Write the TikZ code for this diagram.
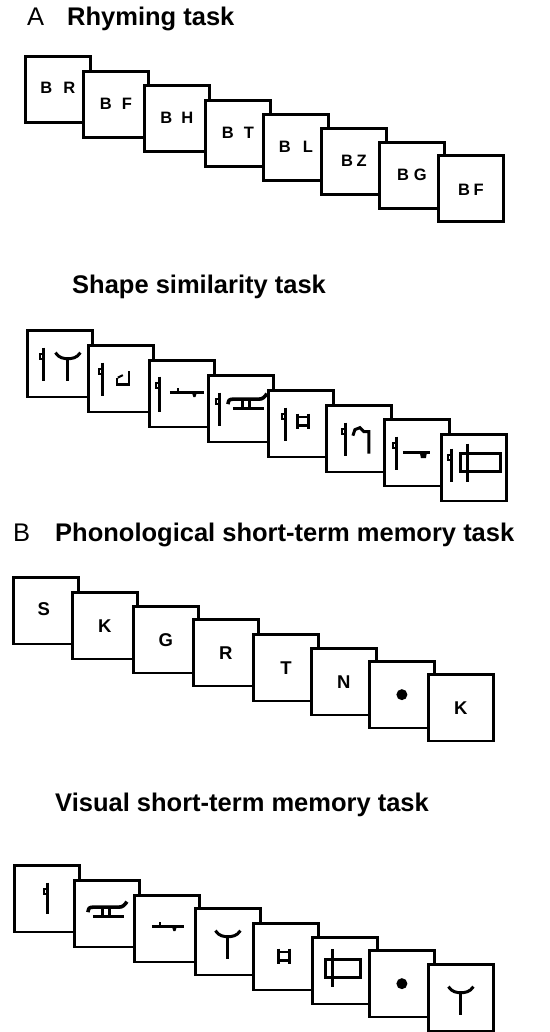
\documentclass[tikz,border=0pt]{standalone}
\usepackage{fontspec}
\setmainfont{Liberation Sans}
\newcommand\gStem[3]{\begin{scope}[shift={(#1,#2)}]
  \draw[gl] (0,-#3) -- (0,#3+1);
  \fill (-5,-#3+5) rectangle (0,-#3+7.5);
  \fill (-5,-#3+10) rectangle (0,-#3+12.5);
  \fill (-5,-#3+5) rectangle (-3,-#3+12.5);
\end{scope}}
\newcommand\gY[2]{\begin{scope}[shift={(#1,#2)}]
  \draw[gl] (-12.5,-11) .. controls (-9,-5.5) and (-4,-5) .. (0,-5) .. controls (4,-5) and (9,-5.5) .. (12.5,-11);
  \draw[gl] (0,-5) -- (0,17);
\end{scope}}
\newcommand\gHook[2]{\begin{scope}[shift={(#1,#2)}]
  \draw[gl,line width=2.4pt] (-6,-1) -- (-6,6) -- (6,6) -- (6,-8);
  \draw[gl,line width=2pt] (-5,-1) -- (0,-3.5);
\end{scope}}
\newcommand\gLine[4]{\begin{scope}[shift={(#1,#2)}]
  \draw[gl] (-#3,0) -- (#4,0);
  \draw[gl,line width=2pt] (-#3+8,0) -- (-#3+8,-4.5);
  \fill (#4-12,0) -- (#4-7,0) -- (#4-8.5,4.5) -- (#4-10.5,4.5) -- cycle;
\end{scope}}
\newcommand\gBench[2]{\begin{scope}[shift={(#1,#2)}]
  \draw[gl] (-14,6) -- (17,6);
  \draw[gl] (-4,-3) -- (-4,6);
  \draw[gl] (3,-3) -- (3,6);
  \draw[gl,line width=3.6pt] (-19,1.5) .. controls (-18,-3) .. (-14,-3.5) -- (12,-3.5) .. controls (16,-3.5) and (18,-6) .. (20,-9);
\end{scope}}
\newcommand\gSq[2]{\begin{scope}[shift={(#1,#2)}]
  \draw[gl] (-5.5,-8) -- (-5.5,7) (5.5,-8) -- (5.5,7);
  \draw[gl,line width=2.4pt] (-5.5,-4.5) -- (5.5,-4.5) (-5.5,4) -- (5.5,4);
\end{scope}}
\newcommand\gRect[4]{\begin{scope}[shift={(#1,#2)}]
  \draw[gl] (-#3,-9) rectangle (#4,9);
  \draw[gl] (-#3+7,-19) -- (-#3+7,19);
\end{scope}}
\newcommand\gHat[2]{\begin{scope}[shift={(#1,#2)}]
  \draw[gl] (-8,-4) -- (-6,-10) -- (-1,-12) -- (3,-8) -- (8,-8) -- (8,14);
\end{scope}}
\newcommand\gBlob[2]{\begin{scope}[shift={(#1,#2)}]
  \draw[gl] (-14,0) -- (13,0);
  \fill (3,0) -- (10,0) -- (9,5.5) -- (4,5.5) -- cycle;
\end{scope}}
\begin{document}
\begin{tikzpicture}[x=1pt,y=-1pt,
  card/.style={draw, fill=white, rectangle, line width=2.8pt, minimum width=65pt, minimum height=66.5pt, inner sep=0pt, outer sep=1.4pt, anchor=north west},
  gl/.style={line width=3pt, line cap=butt, line join=miter},
  ttl/.style={font=\fontsize{25.5}{30}\selectfont, inner sep=0pt, anchor=base west},
  ttlb/.style={font=\fontsize{25.5}{30}\selectfont\bfseries, inner sep=0pt, anchor=base west},
  ctxt/.style={font=\fontsize{16.5}{18}\selectfont\bfseries, inner sep=0pt},
  ltxt/.style={font=\fontsize{18.5}{20}\selectfont\bfseries, inner sep=0pt}]
\useasboundingbox (0,0) rectangle (549,1032);
\clip (0,0) rectangle (549,1032);
\fill[white] (0,0) rectangle (549,1032);
% ---------- A: rhyming ----------
\node[ttl] (tA) at (27,25.5) {A};
\node[ttlb] (tA2) at (67,25.5) {Rhyming task};
\node[card] (a1) at (24,55) {};
\node[ctxt] (a1t) at ([yshift=2pt]a1.center) {B\hspace{11pt}R};
\node[card] (a2) at (82,70) {};
\node[ctxt] (a2t) at ([yshift=1pt]a2.center) {B\hspace{10pt}F};
\node[card] (a3) at (143,84) {};
\node[ctxt] (a3t) at ([yshift=1pt]a3.center) {B\hspace{9pt}H};
\node[card] (a4) at (204,99) {};
\node[ctxt] (a4t) at ([yshift=1pt]a4.center) {B\hspace{10pt}T};
\node[card] (a5) at (262,113) {};
\node[ctxt] (a5t) at ([yshift=1pt]a5.center) {B\hspace{12pt}L};
\node[card] (a6) at (320,127) {};
\node[ctxt] (a6t) at ([yshift=1pt]a6.center) {B\hspace{3.5pt}Z};
\node[card] (a7) at (378,141) {};
\node[ctxt] (a7t) at ([yshift=1pt]a7.center) {B\hspace{5pt}G};
\node[card] (a8) at (437,154) {};
\node[ctxt] (a8t) at ([yshift=-1pt]a8.center) {B\hspace{3.5pt}F};
% ---------- shape similarity ----------
\node[ttlb] (tS) at (72,293) {Shape similarity task};
\node[card] (s1) at (26,329) {};
\begin{scope}[shift={(s1.center)}] \gStem{-16}{0}{16} \gY{8}{0} \end{scope}
\node[card] (s2) at (87,344) {};
\begin{scope}[shift={(s2.center)}] \gStem{-18}{0}{16} \gHook{2}{0} \end{scope}
\node[card] (s3) at (148,359) {};
\begin{scope}[shift={(s3.center)}] \gStem{-22}{0}{17} \gLine{4}{-1}{16}{18} \end{scope}
\node[card] (s4) at (207,374) {};
\begin{scope}[shift={(s4.center)}] \gStem{-21}{0}{16} \gBench{6}{-6} \end{scope}
\node[card] (s5) at (267,389) {};
\begin{scope}[shift={(s5.center)}] \gStem{-15}{0}{16} \gSq{2}{-2} \end{scope}
\node[card] (s6) at (325,404) {};
\begin{scope}[shift={(s6.center)}] \gStem{-13}{0}{16} \gHat{2}{1} \end{scope}
\node[card] (s7) at (383,418) {};
\begin{scope}[shift={(s7.center)}] \gStem{-20}{0}{16} \gBlob{0}{0} \end{scope}
\node[card] (s8) at (440,433) {};
\begin{scope}[shift={(s8.center)}] \gStem{-22}{-3}{16} \gRect{5}{-5}{18}{22} \end{scope}
% ---------- B: phonological STM ----------
\node[ttl] (tB) at (13,541) {B};
\node[ttlb] (tB2) at (55,541) {Phonological short-term memory task};
\node[card] (b1) at (12,576) {};
\node[ltxt] (b1t) at ([shift={(-2pt,2pt)}]b1.center) {S};
\node[card] (b2) at (71,591) {};
\node[ltxt] (b2t) at (b2.center) {K};
\node[card] (b3) at (132,605) {};
\node[ltxt] (b3t) at (b3.center) {G};
\node[card] (b4) at (192,618) {};
\node[ltxt] (b4t) at (b4.center) {R};
\node[card] (b5) at (252,633) {};
\node[ltxt] (b5t) at (b5.center) {T};
\node[card] (b6) at (310,647) {};
\node[ltxt] (b6t) at (b6.center) {N};
\node[card] (b7) at (368,660) {};
\fill (b7.center) circle (5.5pt);
\node[card] (b8) at (427,673) {};
\node[ltxt] (b8t) at (b8.center) {K};
% ---------- visual STM ----------
\node[ttlb] (tV) at (55,811) {Visual short-term memory task};
\node[card] (v1) at (13,864) {};
\begin{scope}[shift={(v1.center)}] \gStem{1}{-1}{15} \end{scope}
\node[card] (v2) at (73,879) {};
\begin{scope}[shift={(v2.center)}] \gBench{0}{-3} \end{scope}
\node[card] (v3) at (133,894) {};
\begin{scope}[shift={(v3.center)}] \gLine{0}{-2}{15}{17} \end{scope}
\node[card] (v4) at (194,907) {};
\begin{scope}[shift={(v4.center)}] \gY{0}{0} \end{scope}
\node[card] (v5) at (252,922) {};
\begin{scope}[shift={(v5.center)}] \gSq{-2}{0} \end{scope}
\node[card] (v6) at (311,936) {};
\begin{scope}[shift={(v6.center)}] \gRect{-1.5}{-2.5}{17.5}{17.5} \end{scope}
\node[card] (v7) at (368,949) {};
\fill (v7.center) circle (5.5pt);
\node[card] (v8) at (427,963) {};
\begin{scope}[shift={(v8.center)}] \gY{0}{0} \end{scope}
\end{tikzpicture}
\end{document}
